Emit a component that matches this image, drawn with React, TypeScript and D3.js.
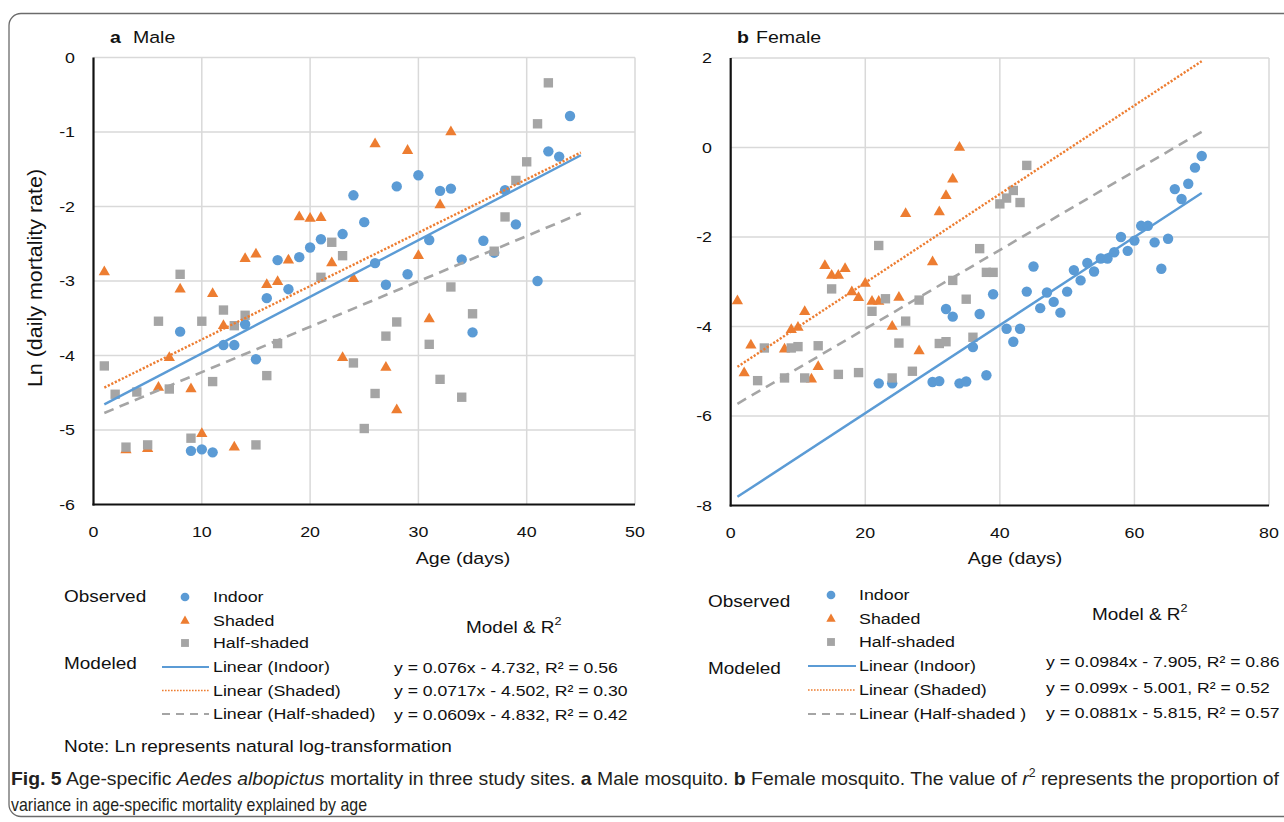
import React from 'react';
import * as d3 from 'd3';

type P = [number, number];

// ---------- Male (panel a) observed data: [age, ln(daily mortality rate)] ----------
const maleIndoor: P[] = [
  [8, -3.68], [9, -5.28], [10, -5.26], [11, -5.3], [12, -3.86], [13, -3.86], [14, -3.58], [15, -4.05],
  [16, -3.23], [17, -2.72], [18, -3.11], [19, -2.68], [20, -2.55], [21, -2.44], [23, -2.37], [24, -1.85],
  [25, -2.21], [26, -2.76], [27, -3.05], [28, -1.73], [29, -2.91], [30, -1.58], [31, -2.45], [32, -1.79],
  [33, -1.76], [34, -2.71], [35, -3.69], [36, -2.46], [37, -2.62], [38, -1.78], [39, -2.24], [41, -3.0],
  [42, -1.26], [43, -1.33], [44, -0.785],
];
const maleShaded: P[] = [
  [1, -2.88], [3, -5.27], [5, -5.25], [6, -4.43], [7, -4.03], [8, -3.11], [9, -4.45], [10, -5.05],
  [11, -3.17], [12, -3.6], [13, -5.23], [14, -2.7], [15, -2.64], [16, -3.05], [17, -3.01], [18, -2.72],
  [19, -2.14], [20, -2.16], [21, -2.15], [22, -2.76], [23, -4.03], [24, -2.97], [26, -1.16], [27, -4.16],
  [28, -4.73], [29, -1.25], [30, -2.66], [31, -3.51], [32, -1.98], [33, -1.0],
];
const maleHalf: P[] = [
  [1, -4.14], [2, -4.52], [3, -5.23], [4, -4.49], [5, -5.2], [6, -3.54], [7, -4.45], [8, -2.91],
  [9, -5.11], [10, -3.54], [11, -4.35], [12, -3.39], [13, -3.6], [14, -3.46], [15, -5.2], [16, -4.27],
  [17, -3.84], [21, -2.95], [22, -2.48], [23, -2.66], [24, -4.1], [25, -4.98], [26, -4.51], [27, -3.74],
  [28, -3.55], [31, -3.85], [32, -4.32], [33, -3.08], [34, -4.56], [35, -3.44], [37, -2.6], [38, -2.14],
  [39, -1.65], [40, -1.4], [41, -0.89], [42, -0.34],
];

// ---------- Female (panel b) observed data ----------
const femaleIndoor: P[] = [
  [22, -5.27], [24, -5.27], [30, -5.24], [31, -5.22], [32, -3.61], [33, -3.78], [34, -5.27], [35, -5.23],
  [36, -4.46], [37, -3.72], [38, -5.09], [39, -3.28], [41, -4.05], [42, -4.34], [43, -4.05], [44, -3.22],
  [45, -2.66], [46, -3.59], [47, -3.24], [48, -3.45], [49, -3.69], [50, -3.22], [51, -2.74], [52, -2.97],
  [53, -2.58], [54, -2.77], [55, -2.48], [56, -2.48], [57, -2.34], [58, -2.0], [59, -2.31], [60, -2.08],
  [61, -1.75], [62, -1.75], [63, -2.12], [64, -2.71], [65, -2.04], [66, -0.93], [67, -1.15], [68, -0.81],
  [69, -0.45], [70, -0.19],
];
const femaleShaded: P[] = [
  [1, -3.43], [2, -5.04], [3, -4.42], [8, -4.51], [9, -4.07], [10, -4.02], [11, -3.67], [12, -5.18],
  [13, -4.9], [14, -2.64], [15, -2.86], [16, -2.86], [17, -2.71], [18, -3.23], [19, -3.36], [20, -3.04],
  [21, -3.44], [22, -3.44], [24, -4.0], [25, -3.35], [26, -1.48], [28, -4.55], [30, -2.56], [31, -1.44],
  [32, -1.08], [33, -0.71], [34, 0.0],
];
const femaleHalf: P[] = [
  [4, -5.21], [5, -4.48], [8, -5.15], [9, -4.48], [10, -4.45], [11, -5.15], [13, -4.43], [15, -3.16],
  [16, -5.07], [19, -5.03], [21, -3.66], [22, -2.19], [23, -3.38], [24, -5.15], [25, -4.37], [26, -3.88],
  [27, -5.0], [28, -3.41], [31, -4.38], [32, -4.34], [33, -2.97], [35, -3.39], [36, -4.24], [37, -2.26],
  [38, -2.79], [39, -2.79], [40, -1.26], [41, -1.13], [42, -0.96], [43, -1.23], [44, -0.4],
];

// ---------- Linear models: [slope, intercept] (Indoor, Shaded, Half-shaded) ----------
const maleSlopes = [0.076, 0.0717, 0.0609];
const maleIntercepts = [-4.732, -4.502, -4.832];
const femaleSlopes = [0.0984, 0.099, 0.0881];
const femaleIntercepts = [-7.905, -5.001, -5.815];
const maleFitRange: P = [1, 45];
const femaleFitRange: P = [1, 70];

// ---------- Ticks / labels ----------
const maleXTicks = [0, 10, 20, 30, 40, 50];
const maleYTicks = [-6, -5, -4, -3, -2, -1, 0];
const femaleXTicks = [0, 20, 40, 60, 80];
const femaleYTicks = [-8, -6, -4, -2, 0, 2];
const seriesNames = ['Indoor', 'Shaded', 'Half-shaded'];
const maleLinearLabels = ['Linear (Indoor)', 'Linear (Shaded)', 'Linear (Half-shaded)'];
const femaleLinearLabels = ['Linear (Indoor)', 'Linear (Shaded)', 'Linear (Half-shaded )'];
const maleEquations = ['y = 0.076x - 4.732, R² = 0.56', 'y = 0.0717x - 4.502, R² = 0.30', 'y = 0.0609x - 4.832, R² = 0.42'];
const femaleEquations = ['y = 0.0984x - 7.905, R² = 0.86', 'y = 0.099x - 5.001, R² = 0.52', 'y = 0.0881x - 5.815, R² = 0.57'];

const COLORS = ['#5B9BD5', '#ED7D31', '#A5A5A5'];
const FONT = '"Liberation Sans", Arial, sans-serif';
const SX = 1.15;

const symCircle = d3.symbol().type(d3.symbolCircle).size(85)()!;
const symTri = d3.symbol().type(d3.symbolTriangle).size(55)()!;
const symSquare = d3.symbol().type(d3.symbolSquare).size(88)()!;
const legCircle = d3.symbol().type(d3.symbolCircle).size(60)()!;
const legTri = d3.symbol().type(d3.symbolTriangle).size(38)()!;
const legSquare = d3.symbol().type(d3.symbolSquare).size(62)()!;

const LINE_STYLES = [
  { width: 2.4, dash: undefined as string | undefined },
  { width: 2.4, dash: '2.2 1.7' },
  { width: 2.6, dash: '10 6.5' },
];
const LEG_LINE_STYLES = [
  { width: 2.2, dash: undefined as string | undefined },
  { width: 1.6, dash: '1.6 1.4' },
  { width: 2.2, dash: '8 6' },
];

function Txt(props: {
  x: number; y: number; size: number; anchor?: string; weight?: string | number; children: React.ReactNode;
  rotate?: boolean; fill?: string;
}) {
  const { x, y, size, anchor = 'start', weight = 'normal', children, rotate, fill = '#111' } = props;
  const tr = rotate ? `translate(${x},${y}) rotate(-90) scale(1.16,1.1)` : `translate(${x},${y}) scale(${SX},1)`;
  return (
    <text transform={tr} fontSize={size} fontFamily={FONT} textAnchor={anchor as any} dominantBaseline="central"
      fontWeight={weight} fill={fill}>
      {children}
    </text>
  );
}

function Panel(props: {
  left: number; right: number; top: number; bottom: number;
  xTicks: number[]; yTicks: number[]; series: P[][]; slopes: number[]; intercepts: number[]; fit: P;
  yLabelRight: number;
}) {
  const { left, right, top, bottom, xTicks, yTicks, series, slopes, intercepts, fit, yLabelRight } = props;
  const xs = d3.scaleLinear().domain([xTicks[0], xTicks[xTicks.length - 1]]).range([left, right]);
  const ys = d3.scaleLinear().domain([yTicks[0], yTicks[yTicks.length - 1]]).range([bottom, top]);
  const line = d3.line<P>().x((d) => xs(d[0])).y((d) => ys(d[1]));
  const syms = [symCircle, symTri, symSquare];
  return (
    <g>
      {xTicks.slice(1).map((t) => (
        <line key={'gx' + t} x1={xs(t)} x2={xs(t)} y1={top} y2={bottom} stroke="#d9d9d9" strokeWidth={1.5} />
      ))}
      {yTicks.slice(1).map((t) => (
        <line key={'gy' + t} x1={left} x2={right} y1={ys(t)} y2={ys(t)} stroke="#d9d9d9" strokeWidth={1.5} />
      ))}
      <line x1={left} x2={left} y1={top} y2={bottom + 1} stroke="#111" strokeWidth={2.2} />
      <line x1={left - 1} x2={right} y1={bottom} y2={bottom} stroke="#111" strokeWidth={2.2} />
      {series.map((pts, si) => (
        <g key={'s' + si} fill={COLORS[si]}>
          {pts.map((p, i) => (
            <path key={i} d={syms[si]} transform={`translate(${xs(p[0])},${ys(p[1])})`} />
          ))}
        </g>
      ))}
      {slopes.map((m, i) => {
        const f = (x: number) => m * x + intercepts[i];
        const st = LINE_STYLES[i];
        return (
          <path key={'fit' + i} d={line([[fit[0], f(fit[0])], [fit[1], f(fit[1])]])!} fill="none"
            stroke={COLORS[i]} strokeWidth={st.width} strokeDasharray={st.dash} />
        );
      })}
      {yTicks.map((t) => (
        <Txt key={'yl' + t} x={yLabelRight} y={ys(t)} size={15.5} anchor="end">{String(t)}</Txt>
      ))}
      {xTicks.map((t) => (
        <Txt key={'xl' + t} x={xs(t)} y={bottom + 27} size={15.5} anchor="middle">{String(t)}</Txt>
      ))}
    </g>
  );
}

function Legend(props: {
  obsX: number; obsY: number; markX: number; textX: number; rowYs: number[];
  modX: number; modY: number; lineX1: number; lineX2: number; linRowYs: number[]; linLabels: string[];
  mrX: number; mrY: number; eqX: number; eqYs: number[]; equations: string[];
}) {
  const p = props;
  const legSyms = [legCircle, legTri, legSquare];
  return (
    <g>
      <Txt x={p.obsX} y={p.obsY} size={16.5}>Observed</Txt>
      {seriesNames.map((n, i) => (
        <g key={n}>
          <path d={legSyms[i]} fill={COLORS[i]} transform={`translate(${p.markX},${p.rowYs[i]})`} />
          <Txt x={p.textX} y={p.rowYs[i]} size={15.5}>{n}</Txt>
        </g>
      ))}
      <Txt x={p.modX} y={p.modY} size={16.5}>Modeled</Txt>
      {p.linLabels.map((n, i) => (
        <g key={n}>
          <line x1={p.lineX1} x2={p.lineX2} y1={p.linRowYs[i]} y2={p.linRowYs[i]} stroke={COLORS[i]}
            strokeWidth={LEG_LINE_STYLES[i].width} strokeDasharray={LEG_LINE_STYLES[i].dash} />
          <Txt x={p.textX} y={p.linRowYs[i]} size={15.5}>{n}</Txt>
        </g>
      ))}
      <Txt x={p.mrX} y={p.mrY} size={16.5}>
        Model &amp; R<tspan fontSize={11} dy={-6}>2</tspan>
      </Txt>
      {p.equations.map((e, i) => (
        <Txt key={e} x={p.eqX} y={p.eqYs[i]} size={15.3}>{e}</Txt>
      ))}
    </g>
  );
}

export default function App() {
  return (
    <svg width={1284} height={822} style={{ position: 'absolute', left: 0, top: 0, background: '#fff' }}>
      <rect x={0} y={0} width={1284} height={822} fill="#fff" />
      <rect x={9} y={13.5} width={1300} height={803} rx={12} ry={12} fill="none" stroke="#6b6b6b" strokeWidth={1.3} />

      {/* Panel a: Male */}
      <Txt x={110} y={37} size={17} weight="bold">a</Txt>
      <Txt x={133} y={37} size={17}>Male</Txt>
      <Panel left={93.5} right={635} top={57.5} bottom={504.5} xTicks={maleXTicks} yTicks={maleYTicks}
        series={[maleIndoor, maleShaded, maleHalf]} slopes={maleSlopes} intercepts={maleIntercepts}
        fit={maleFitRange} yLabelRight={75} />
      <Txt x={463} y={558} size={17} anchor="middle">Age (days)</Txt>
      <Txt x={35} y={278} size={18.5} anchor="middle" rotate>Ln (daily mortality rate)</Txt>

      {/* Panel b: Female */}
      <Txt x={737} y={37} size={17} weight="bold">b</Txt>
      <Txt x={756} y={37} size={17}>Female</Txt>
      <Panel left={730.7} right={1269} top={58} bottom={505.5} xTicks={femaleXTicks} yTicks={femaleYTicks}
        series={[femaleIndoor, femaleShaded, femaleHalf]} slopes={femaleSlopes} intercepts={femaleIntercepts}
        fit={femaleFitRange} yLabelRight={712} />
      <Txt x={1015} y={558} size={17} anchor="middle">Age (days)</Txt>

      {/* Legends */}
      <Legend obsX={64} obsY={596} markX={185} textX={213} rowYs={[597, 621, 643]}
        modX={64} modY={663} lineX1={162} lineX2={209} linRowYs={[667, 690.5, 714]} linLabels={maleLinearLabels}
        mrX={466} mrY={627} eqX={394} eqYs={[667, 690.5, 714]} equations={maleEquations} />
      <Legend obsX={708} obsY={601} markX={831} textX={859} rowYs={[595, 619, 642]}
        modX={708} modY={668} lineX1={808} lineX2={856} linRowYs={[666, 690, 714]} linLabels={femaleLinearLabels}
        mrX={1092} mrY={614} eqX={1046} eqYs={[661, 687, 712]} equations={femaleEquations} />

      <Txt x={64} y={746} size={16.5}>Note: Ln represents natural log-transformation</Txt>

      {/* Caption */}
      <text x={11} y={785} fontSize={19} fontFamily={FONT} fill="#231f20" textLength={1268} lengthAdjust="spacingAndGlyphs">
        <tspan fontWeight="bold">Fig. 5</tspan>
        <tspan>{'  Age-specific '}</tspan>
        <tspan fontStyle="italic">Aedes albopictus</tspan>
        <tspan>{' mortality in three study sites. '}</tspan>
        <tspan fontWeight="bold">a</tspan>
        <tspan>{' Male mosquito. '}</tspan>
        <tspan fontWeight="bold">b</tspan>
        <tspan>{' Female mosquito. The value of '}</tspan>
        <tspan fontStyle="italic">r</tspan>
        <tspan fontSize={12} dy={-8}>2</tspan>
        <tspan dy={8}>{' represents the proportion of'}</tspan>
      </text>
      <text x={11} y={811} fontSize={19} fontFamily={FONT} fill="#231f20" textLength={356} lengthAdjust="spacingAndGlyphs">
        variance in age-specific mortality explained by age
      </text>
    </svg>
  );
}
